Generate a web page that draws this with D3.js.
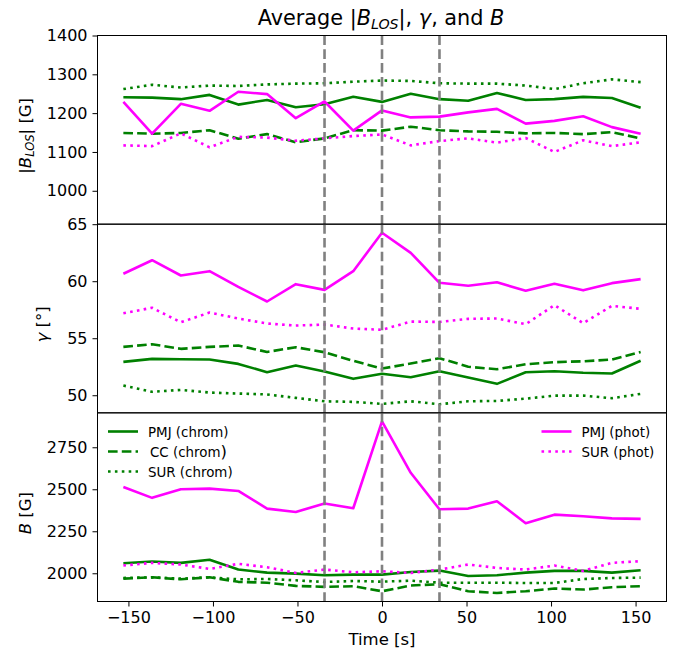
<!DOCTYPE html>
<html>
<head>
<meta charset="utf-8">
<script src="https://cdn.jsdelivr.net/npm/d3@7"></script>
<style>
  body { margin: 0; background: #fff; }
  text { font-family: "DejaVu Sans", sans-serif; fill: #000; }
</style>
</head>
<body>
<div id="chart"></div>
<script>
// time axis (s)
var time = [-153, -136, -119, -102, -85, -68, -51, -34, -17, 0, 17, 34, 51, 68, 85, 102, 119, 136, 153];
var markers = [-34, 0, 34];

// |B_LOS| [G]
var blosPmjChrom = [1241, 1240, 1236, 1247, 1222, 1234, 1215, 1223, 1242, 1229, 1250, 1236, 1232, 1252, 1234, 1236, 1242, 1239, 1214];
var blosCcChrom  = [1149, 1147, 1149, 1156, 1134, 1146, 1125, 1135, 1156, 1155, 1165, 1156, 1153, 1152, 1148, 1149, 1146, 1151, 1135];
var blosSurChrom = [1262, 1273, 1266, 1271, 1270, 1274, 1276, 1277, 1281, 1284, 1283, 1277, 1276, 1276, 1271, 1262, 1277, 1287, 1280];
var blosPmjPhot  = [1229, 1147, 1224, 1206, 1255, 1249, 1187, 1230, 1155, 1207, 1189, 1191, 1202, 1211, 1173, 1180, 1192, 1164, 1147];
var blosSurPhot  = [1117, 1115, 1148, 1112, 1139, 1137, 1129, 1135, 1141, 1145, 1117, 1128, 1135, 1124, 1136, 1100, 1130, 1115, 1125];

// gamma [deg]
var gamPmjChrom = [52.93, 53.19, 53.16, 53.13, 52.75, 52.02, 52.6, 52.08, 51.44, 51.88, 51.58, 52.1, 51.55, 51.0, 52.02, 52.1, 51.97, 51.91, 53.02];
var gamCcChrom  = [54.24, 54.47, 54.07, 54.24, 54.36, 53.8, 54.21, 53.77, 53.02, 52.34, 52.78, 53.25, 52.5, 52.28, 52.72, 52.9, 52.98, 53.13, 53.8];
var gamSurChrom = [50.85, 50.3, 50.47, 50.24, 50.15, 50.07, 49.77, 49.47, 49.42, 49.24, 49.47, 49.21, 49.47, 49.5, 49.7, 49.97, 49.97, 49.74, 50.12];
var gamPmjPhot  = [60.65, 61.84, 60.5, 60.88, 59.5, 58.22, 59.74, 59.24, 60.88, 64.25, 62.49, 59.86, 59.6, 59.91, 59.16, 59.77, 59.2, 59.83, 60.18];
var gamSurPhot  = [57.19, 57.67, 56.4, 57.25, 56.73, 56.29, 56.11, 56.2, 55.85, 55.74, 56.46, 56.43, 56.7, 56.73, 56.23, 57.9, 56.32, 57.84, 57.58];

// B [G]
var bPmjChrom = [2060, 2070, 2062, 2080, 2022, 2004, 1998, 1988, 1992, 1992, 2008, 2016, 1984, 1988, 2004, 2014, 2014, 2004, 2018];
var bCcChrom  = [1968, 1976, 1964, 1976, 1949, 1944, 1925, 1919, 1923, 1893, 1927, 1935, 1893, 1883, 1893, 1909, 1903, 1917, 1923];
var bSurChrom = [1972, 1976, 1968, 1976, 1964, 1966, 1958, 1948, 1954, 1950, 1956, 1944, 1944, 1944, 1942, 1942, 1966, 1972, 1974];
var bPmjPhot  = [2514, 2449, 2500, 2504, 2490, 2385, 2365, 2415, 2387, 2904, 2598, 2381, 2385, 2429, 2298, 2349, 2339, 2327, 2324];
var bSurPhot  = [2046, 2062, 2052, 2026, 2056, 2036, 2002, 2022, 2006, 2012, 2002, 2022, 2052, 2032, 2022, 2046, 2014, 2062, 2072];

var xTicks = [-150, -100, -50, 0, 50, 100, 150];
var blosTicks = [1000, 1100, 1200, 1300, 1400];
var gamTicks = [50, 55, 60, 65];
var bTicks = [2000, 2250, 2500, 2750];

var width = 681, height = 655;
var plotL = 97.5, plotR = 666.5, plotT = 35.5, plotB = 601.5;
var panelH = (plotB - plotT) / 3;

var green = "#008000", magenta = "#ff00ff";
var lw = 2.6;
var styles = {
  solid: null,
  dashed: (3.7 * lw) + "," + (1.6 * lw),
  dotted: lw + "," + (1.65 * lw)
};

// matplotlib-like 5% padding
function pad(ext) {
  var m = (ext[1] - ext[0]) * 0.05;
  return [ext[0] - m, ext[1] + m];
}

var svg = d3.select("#chart").append("svg")
    .attr("width", width)
    .attr("height", height);

var x = d3.scaleLinear().domain(pad(d3.extent(time))).range([plotL, plotR]);

var panels = [
  {domain: [914, 1400], ticks: blosTicks,
   series: [
     {v: blosPmjChrom, c: green, s: "solid"},
     {v: blosCcChrom, c: green, s: "dashed"},
     {v: blosSurChrom, c: green, s: "dotted"},
     {v: blosPmjPhot, c: magenta, s: "solid"},
     {v: blosSurPhot, c: magenta, s: "dotted"}]},
  {ticks: gamTicks,
   series: [
     {v: gamPmjChrom, c: green, s: "solid"},
     {v: gamCcChrom, c: green, s: "dashed"},
     {v: gamSurChrom, c: green, s: "dotted"},
     {v: gamPmjPhot, c: magenta, s: "solid"},
     {v: gamSurPhot, c: magenta, s: "dotted"}]},
  {ticks: bTicks,
   series: [
     {v: bPmjChrom, c: green, s: "solid"},
     {v: bCcChrom, c: green, s: "dashed"},
     {v: bSurChrom, c: green, s: "dotted"},
     {v: bPmjPhot, c: magenta, s: "solid"},
     {v: bSurPhot, c: magenta, s: "dotted"}]}
];

panels.forEach(function(p, i) {
  var y0 = plotT + i * panelH, y1 = y0 + panelH;
  var dom = p.domain;
  if (!dom) {
    var all = [];
    p.series.forEach(function(s) { all = all.concat(s.v); });
    dom = pad(d3.extent(all));
  }
  var y = d3.scaleLinear().domain(dom).range([y1, y0]);

  var g = svg.append("g");

  var line = d3.line()
      .x(function(d, j) { return x(time[j]); })
      .y(function(d) { return y(d); });

  g.selectAll(".series")
      .data(p.series)
    .enter().append("path")
      .attr("class", "series")
      .attr("d", function(d) { return line(d.v); })
      .attr("fill", "none")
      .attr("stroke", function(d) { return d.c; })
      .attr("stroke-width", lw)
      .attr("stroke-dasharray", function(d) { return styles[d.s]; })
      .attr("stroke-linejoin", "round");

  // event markers
  g.selectAll(".marker")
      .data(markers)
    .enter().append("line")
      .attr("class", "marker")
      .attr("x1", function(d) { return x(d); })
      .attr("x2", function(d) { return x(d); })
      .attr("y1", y0)
      .attr("y2", y1)
      .attr("stroke", "#808080")
      .attr("stroke-width", 2.6)
      .attr("stroke-dasharray", "9.6,4.2");

  var ax = g.append("g")
      .attr("transform", "translate(" + plotL + ",0)")
      .call(d3.axisLeft(y).tickValues(p.ticks).tickSize(5).tickPadding(5).tickFormat(d3.format("d")));
  ax.select(".domain").remove();
  ax.selectAll("line").attr("stroke", "#000");
  ax.selectAll("text").attr("font-size", "16px").attr("font-family", "DejaVu Sans");

  g.append("rect")
      .attr("x", plotL).attr("y", y0)
      .attr("width", plotR - plotL).attr("height", panelH)
      .attr("fill", "none").attr("stroke", "#000").attr("stroke-width", 1);
});

// x axis
var xa = svg.append("g")
    .attr("transform", "translate(0," + plotB + ")")
    .call(d3.axisBottom(x).tickValues(xTicks).tickSize(5).tickPadding(5).tickFormat(d3.format("d")));
xa.select(".domain").remove();
xa.selectAll("line").attr("stroke", "#000");
xa.selectAll("text").attr("font-size", "16px").attr("font-family", "DejaVu Sans");

svg.append("text")
    .attr("x", (plotL + plotR) / 2).attr("y", 645)
    .attr("text-anchor", "middle").attr("font-size", "16.5px")
    .text("Time [s]");

// title
var title = svg.append("text")
    .attr("x", (plotL + plotR) / 2 - 1).attr("y", 25)
    .attr("text-anchor", "middle").attr("font-size", "20.8px");
title.append("tspan").text("Average |");
title.append("tspan").attr("font-style", "italic").text("B");
title.append("tspan").attr("font-style", "italic").attr("font-size", "14.2px").attr("dy", 4).text("LOS");
title.append("tspan").attr("dy", -4).text("|, ");
title.append("tspan").attr("font-style", "italic").text("γ");
title.append("tspan").text(", and ");
title.append("tspan").attr("font-style", "italic").text("B");

// y labels
function ylabel(cx, cy) {
  return svg.append("text")
      .attr("transform", "translate(" + cx + "," + cy + ") rotate(-90)")
      .attr("text-anchor", "middle").attr("font-size", "16.5px");
}
var l1 = ylabel(31, plotT + panelH * 0.5 + 6);
l1.append("tspan").text("|");
l1.append("tspan").attr("font-style", "italic").text("B");
l1.append("tspan").attr("font-style", "italic").attr("font-size", "11.5px").attr("dy", 3).text("LOS");
l1.append("tspan").attr("dy", -3).text("| [G]");

var l2 = ylabel(48, plotT + panelH * 1.5 + 6);
l2.append("tspan").attr("font-style", "italic").text("γ");
l2.append("tspan").text(" [°]");

var l3 = ylabel(31, plotT + panelH * 2.5 + 6);
l3.append("tspan").attr("font-style", "italic").text("B");
l3.append("tspan").text(" [G]");

// legends
var legLeft = [
  {label: "PMJ (chrom", close: ")", big: false, c: green, s: "solid"},
  {label: "CC (chrom", close: ")", big: true, c: green, s: "dashed"},
  {label: "SUR (chrom", close: ")", big: false, c: green, s: "dotted"}
];
var legRight = [
  {label: "PMJ (phot", close: ")", big: false, c: magenta, s: "solid"},
  {label: "SUR (phot", close: ")", big: false, c: magenta, s: "dotted"}
];

function legend(items, lx, ly) {
  var lg = svg.append("g").attr("transform", "translate(" + lx + "," + ly + ")");
  var row = lg.selectAll("g").data(items).enter().append("g")
      .attr("transform", function(d, i) { return "translate(0," + (i * 20) + ")"; });
  row.append("line")
      .attr("x1", 0).attr("x2", 30).attr("y1", 0).attr("y2", 0)
      .attr("stroke", function(d) { return d.c; })
      .attr("stroke-width", lw)
      .attr("stroke-dasharray", function(d) { return styles[d.s]; });
  var t = row.append("text")
      .attr("x", function(d) { return d.big ? 42 : 40; }).attr("y", 5)
      .attr("font-size", "13.4px");
  t.append("tspan").text(function(d) { return d.label; });
  t.append("tspan")
      .attr("font-size", function(d) { return d.big ? "16.5px" : null; })
      .text(function(d) { return d.close; });
}
legend(legLeft, 108, 431.5);
legend(legRight, 541.5, 431.5);
</script>
</body>
</html>
